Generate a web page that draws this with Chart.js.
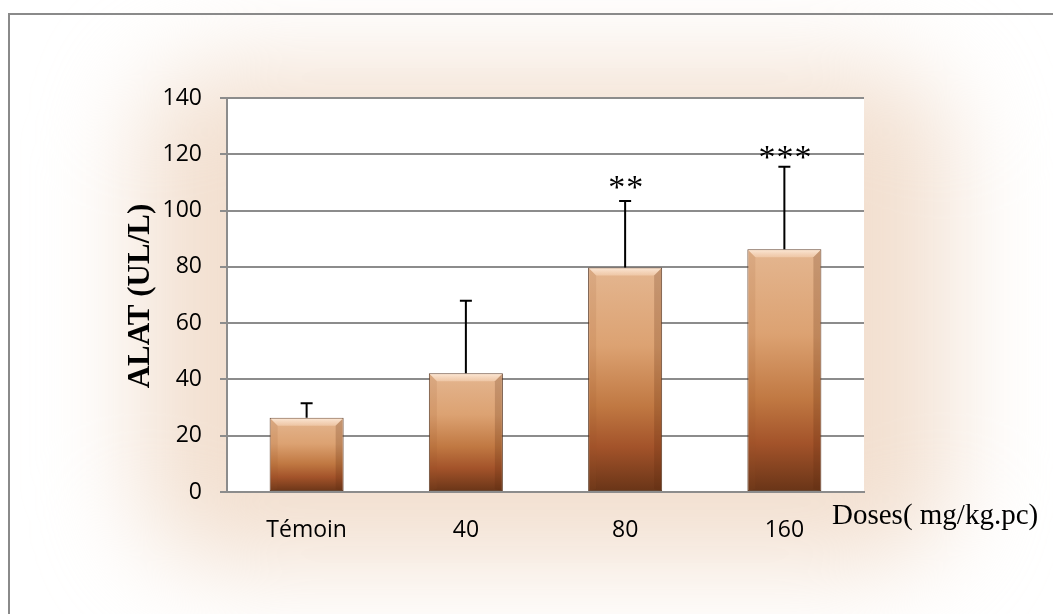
<!DOCTYPE html>
<html>
<head>
<meta charset="utf-8">
<script src="https://cdn.jsdelivr.net/npm/chart.js@4.4.1/dist/chart.umd.min.js"></script>
<style>
  html, body { margin: 0; padding: 0; background: #fff; }
  #wrap { width: 1053px; height: 614px; }
</style>
</head>
<body>
<div id="wrap"><canvas id="c" width="1053" height="614"></canvas></div>
<script>
// Doses administered (mg/kg body weight)
const categories = ['Témoin', '40', '80', '160'];
// Mean ALAT activity (UI/L) per group
const alatMeans = [26.4, 42.2, 79.8, 86.3];
// Standard deviation, drawn as upper error bars
const alatSD = [5.1, 25.8, 23.6, 29.3];
// Significance against the control group
const significance = ['', '', '**', '***'];
// Y axis ticks
const yTickValues = [0, 20, 40, 60, 80, 100, 120, 140];

const GRID = '#8c8c8c';
const SERIF = '"Liberation Serif", "Times New Roman", serif';
const SANS = '"Open Sans", "Noto Sans", sans-serif';

function barGradient(ctx) {
  const chart = ctx.chart;
  const { chartArea, scales } = chart;
  if (!chartArea || ctx.type !== 'data') return '#c98a5a';
  const top = scales.y.getPixelForValue(alatMeans[ctx.dataIndex]);
  const bottom = scales.y.getPixelForValue(0);
  const g = chart.ctx.createLinearGradient(0, top, 0, bottom);
  g.addColorStop(0.0, '#e4b690');
  g.addColorStop(0.35, '#dca272');
  g.addColorStop(0.62, '#c07842');
  g.addColorStop(0.8, '#a3532a');
  g.addColorStop(1.0, '#683417');
  return g;
}

// Soft peach glow behind the chart, white plot area and the frame
const backdrop = {
  id: 'backdrop',
  beforeDraw(chart) {
    const { ctx, chartArea: a } = chart;
    ctx.save();
    ctx.fillStyle = '#ffffff';
    ctx.fillRect(0, 0, chart.width, chart.height);
    ctx.filter = 'blur(50px)';
    ctx.fillStyle = '#f2dfcf';
    ctx.beginPath();
    ctx.roundRect(140, 68, 810, 495, 80);
    ctx.fill();
    ctx.filter = 'none';
    ctx.fillStyle = '#ffffff';
    ctx.fillRect(a.left, a.top, a.right - a.left, a.bottom - a.top);
    // outer frame
    ctx.strokeStyle = '#8a8a8a';
    ctx.lineWidth = 2;
    ctx.beginPath();
    ctx.moveTo(9, chart.height + 5);
    ctx.lineTo(9, 14);
    ctx.lineTo(chart.width + 5, 14);
    ctx.stroke();
    ctx.restore();
  }
};

// Bevel, error bars, significance stars and axis titles
const decorations = {
  id: 'decorations',
  afterDatasetsDraw(chart) {
    const { ctx, scales } = chart;
    const meta = chart.getDatasetMeta(0);
    ctx.save();
    meta.data.forEach((bar, i) => {
      const { x, y, base, width } = bar.getProps(['x', 'y', 'base', 'width'], true);
      const l = x - width / 2, r = x + width / 2;
      const b = 8;
      // top bevel
      let g = ctx.createLinearGradient(0, y, 0, y + b);
      g.addColorStop(0, 'rgba(255,240,226,0.9)');
      g.addColorStop(1, 'rgba(248,215,188,0.55)');
      ctx.fillStyle = g;
      ctx.beginPath();
      ctx.moveTo(l + 1, y + 1);
      ctx.lineTo(r - 1, y + 1);
      ctx.lineTo(r - b, y + b);
      ctx.lineTo(l + b, y + b);
      ctx.closePath();
      ctx.fill();
      // left bevel
      ctx.fillStyle = 'rgba(150,80,40,0.12)';
      ctx.beginPath();
      ctx.moveTo(l + 1, y + 1);
      ctx.lineTo(l + b, y + b);
      ctx.lineTo(l + b, base - 2);
      ctx.lineTo(l + 1, base);
      ctx.closePath();
      ctx.fill();
      // right bevel
      ctx.fillStyle = 'rgba(90,40,15,0.22)';
      ctx.beginPath();
      ctx.moveTo(r - 1, y + 1);
      ctx.lineTo(r - b, y + b);
      ctx.lineTo(r - b, base - 2);
      ctx.lineTo(r - 1, base);
      ctx.closePath();
      ctx.fill();

      // error bar
      const yTop = scales.y.getPixelForValue(alatMeans[i] + alatSD[i]);
      ctx.strokeStyle = '#000';
      ctx.lineWidth = 2;
      ctx.beginPath();
      ctx.moveTo(x, y);
      ctx.lineTo(x, yTop);
      ctx.moveTo(x - 6, yTop);
      ctx.lineTo(x + 6, yTop);
      ctx.stroke();

      // significance marks
      if (significance[i]) {
        ctx.fillStyle = '#000';
        ctx.font = '34px ' + SERIF;
        ctx.textAlign = 'center';
        ctx.textBaseline = 'alphabetic';
        ctx.letterSpacing = '1px';
        ctx.fillText(significance[i], x + 1, yTop + (i === 3 ? 1 : -3));
        ctx.letterSpacing = '0px';
      }
    });

    // y axis title
    ctx.fillStyle = '#000';
    ctx.font = 'bold 31px ' + SERIF;
    ctx.textAlign = 'center';
    ctx.textBaseline = 'middle';
    ctx.save();
    ctx.translate(141, 296);
    ctx.rotate(-Math.PI / 2);
    ctx.fillText('ALAT (UL/L)', 0, 0);
    ctx.restore();

    // x axis title
    ctx.font = '29px ' + SERIF;
    ctx.textAlign = 'left';
    ctx.textBaseline = 'middle';
    ctx.fillText('Doses( mg/kg.pc)', 832, 516);
    ctx.restore();
  }
};

new Chart(document.getElementById('c'), {
  type: 'bar',
  data: {
    labels: categories,
    datasets: [{
      data: alatMeans,
      backgroundColor: barGradient,
      borderColor: 'rgba(85,50,28,0.9)',
      borderWidth: 1,
      borderSkipped: false,
      barPercentage: 0.465,
      categoryPercentage: 1.0
    }]
  },
  options: {
    responsive: false,
    animation: false,
    devicePixelRatio: 1,
    layout: { padding: { top: 98, right: 189, bottom: 62, left: 0 } },
    plugins: {
      legend: { display: false },
      tooltip: { enabled: false }
    },
    scales: {
      x: {
        grid: { display: false },
        border: { display: true, color: GRID, width: 2 },
        ticks: { color: '#000', font: { family: SANS, size: 23 }, padding: 17 },
        afterFit(scale) { scale.height = 60; }
      },
      y: {
        min: 0,
        max: 140,
        afterBuildTicks(scale) { scale.ticks = yTickValues.map(v => ({ value: v })); },
        grid: { color: GRID, lineWidth: 2, tickLength: 7 },
        border: { display: true, color: GRID, width: 2 },
        ticks: { color: '#000', font: { family: SANS, size: 23 }, padding: 18 },
        afterFit(scale) { scale.width = 227; }
      }
    }
  },
  plugins: [backdrop, decorations]
});
</script>
</body>
</html>
